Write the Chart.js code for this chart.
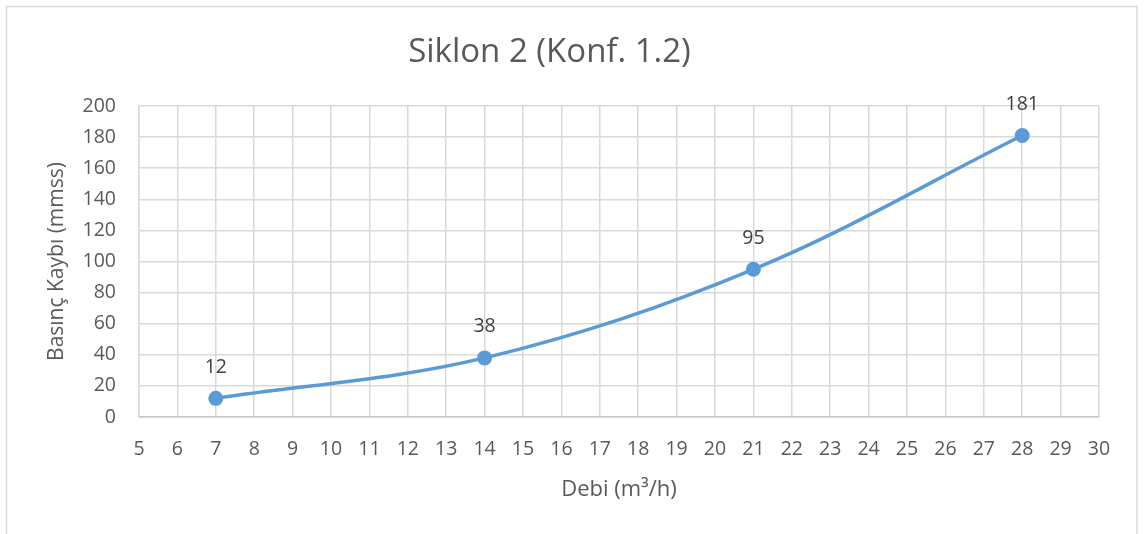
<!DOCTYPE html>
<html>
<head>
<meta charset="utf-8">
<script src="https://cdn.jsdelivr.net/npm/chart.js@4"></script>
<style>
  html, body { margin: 0; padding: 0; background: #ffffff; }
  canvas { display: block; }
</style>
</head>
<body>
<canvas id="chart" width="1146" height="534"></canvas>
<script>
// Flow rate (m³/h) and measured pressure drop (mmss)
const flowRates = [7, 14, 21, 28];
const pressureDrop = [12, 38, 95, 181];

const chartTitle = 'Siklon 2 (Konf. 1.2)';
const xAxisTitle = 'Debi (m³/h)';
const yAxisTitle = 'Basınç Kaybı (mmss)';

const FONT = "'Open Sans', 'Liberation Sans', sans-serif";

// Light frame around the whole chart
const frame = {
  id: 'frame',
  beforeDraw(chart) {
    const ctx = chart.ctx;
    ctx.save();
    ctx.fillStyle = '#ffffff';
    ctx.fillRect(0, 0, chart.width, chart.height);
    ctx.strokeStyle = '#D9D9D9';
    ctx.lineWidth = 1.5;
    ctx.strokeRect(6.5, 6.5, 1130.5, 560);
    ctx.restore();
  }
};

// Value labels above each point
const valueLabels = {
  id: 'valueLabels',
  afterDatasetsDraw(chart) {
    const ctx = chart.ctx;
    const meta = chart.getDatasetMeta(0);
    ctx.save();
    ctx.font = '19.5px ' + FONT;
    ctx.fillStyle = '#404040';
    ctx.textAlign = 'center';
    ctx.textBaseline = 'middle';
    meta.data.forEach((pt, i) => {
      ctx.fillText(String(pressureDrop[i]), pt.x, pt.y - 31);
    });
    ctx.restore();
  }
};

new Chart(document.getElementById('chart'), {
  type: 'line',
  data: {
    datasets: [{
      data: flowRates.map((x, i) => ({ x: x, y: pressureDrop[i] })),
      borderColor: '#5B9BD5',
      backgroundColor: '#5B9BD5',
      borderWidth: 3.5,
      pointRadius: 7.5,
      pointHoverRadius: 7.5,
      pointBorderWidth: 0,
      tension: 0.35,
      fill: false
    }]
  },
  options: {
    responsive: false,
    devicePixelRatio: 1,
    animation: false,
    layout: { padding: { top: 6, right: 47, bottom: 0, left: 0 } },
    plugins: {
      legend: { display: false },
      tooltip: { enabled: false },
      title: {
        display: true,
        text: chartTitle,
        color: '#595959',
        font: { family: FONT, size: 33, weight: 'normal', lineHeight: 1.2 },
        padding: { top: 27.2, bottom: 33.2 }
      }
    },
    scales: {
      x: {
        type: 'linear',
        min: 5,
        max: 30,
        afterFit(scale) { scale.height = 117; },
        ticks: {
          stepSize: 1,
          color: '#595959',
          font: { family: FONT, size: 19.5, lineHeight: 1.2 },
          padding: 20.5,
          maxRotation: 0,
          autoSkip: false
        },
        grid: { color: '#D9D9D9', lineWidth: 1.5, drawTicks: false },
        border: { color: '#C8C8C8', width: 1.5 },
        title: {
          display: true,
          text: xAxisTitle,
          color: '#595959',
          font: { family: FONT, size: 22, lineHeight: 1.2 },
          padding: { top: 0, bottom: 30.8 }
        }
      },
      y: {
        min: 0,
        max: 200,
        afterFit(scale) { scale.width = 139; },
        ticks: {
          stepSize: 20,
          color: '#595959',
          font: { family: FONT, size: 19.5, lineHeight: 1.2 },
          padding: 23
        },
        grid: { color: '#D9D9D9', lineWidth: 1.5, drawTicks: false },
        border: { color: '#D9D9D9', width: 1.5 },
        title: {
          display: true,
          text: yAxisTitle,
          color: '#595959',
          font: { family: FONT, size: 21, lineHeight: 1.2 },
          padding: { top: 44, bottom: 0 }
        }
      }
    }
  },
  plugins: [frame, valueLabels]
});
</script>
</body>
</html>
